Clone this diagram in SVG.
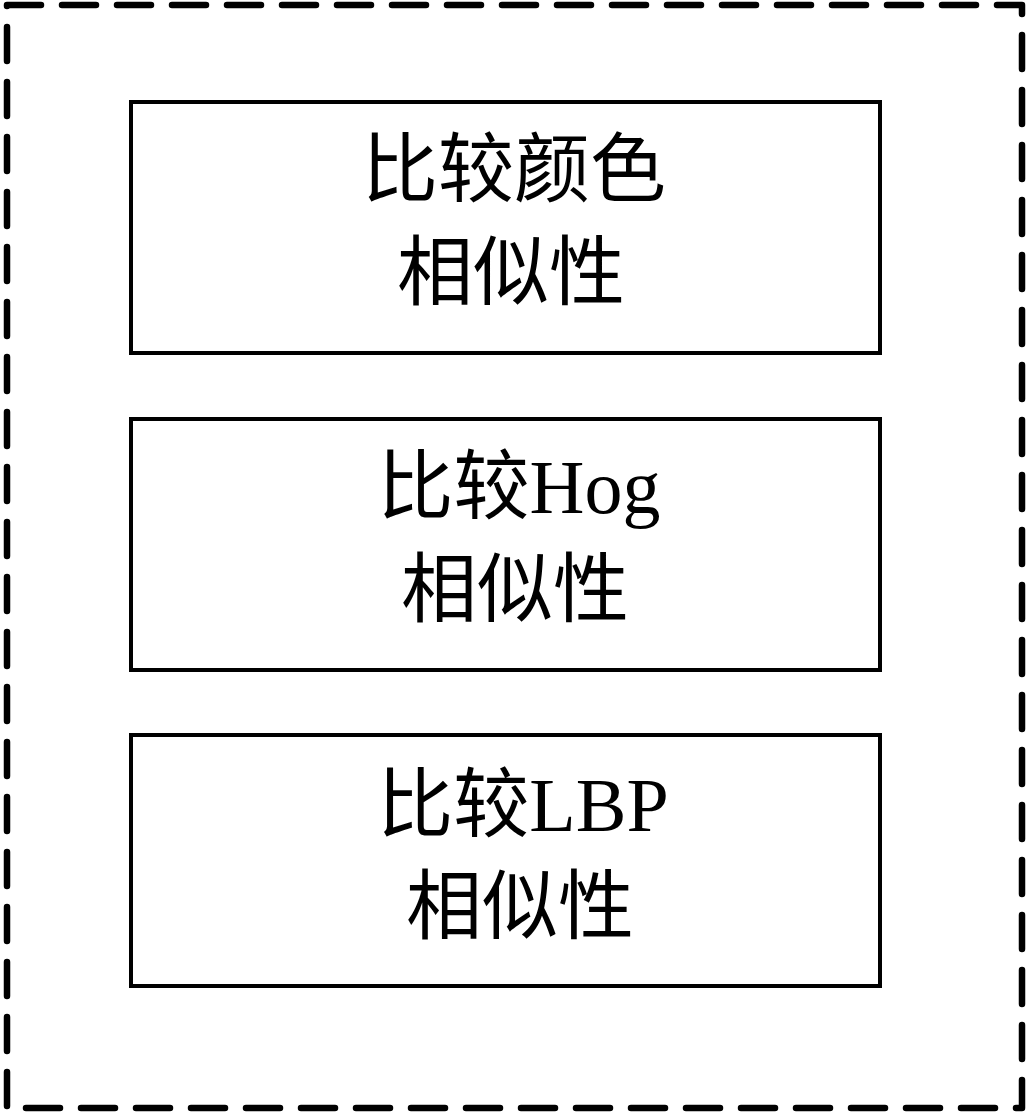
<svg xmlns="http://www.w3.org/2000/svg" width="1029" height="1114" viewBox="0 0 1029 1114">
<style>
.frame{fill:none;stroke:#000;stroke-width:6.5;stroke-dasharray:34 21;stroke-linecap:round;stroke-linejoin:round}
.box{fill:#fff;stroke:#000;stroke-width:4}
.t{font-family:"Liberation Serif","Noto Sans CJK SC",serif;font-size:76px;font-weight:400;fill:#000;text-anchor:middle}
</style>
<rect width="1029" height="1114" fill="#fff"/>
<g id="container"><rect class="frame" x="7" y="5" width="1015" height="1103"/></g>
<g id="node-color">
<rect class="box" x="131" y="102" width="749" height="251"/>
<text class="t" x="514" y="196">比较颜色</text>
<text class="t" x="511" y="299">相似性</text>
</g>
<g id="node-hog">
<rect class="box" x="131" y="419" width="749" height="251"/>
<text class="t" x="519" y="513">比较Hog</text>
<text class="t" x="515" y="616">相似性</text>
</g>
<g id="node-lbp">
<rect class="box" x="131" y="735" width="749" height="251"/>
<text class="t" x="523" y="831">比较LBP</text>
<text class="t" x="520" y="933">相似性</text>
</g>
<g id="connectors"></g>
</svg>
